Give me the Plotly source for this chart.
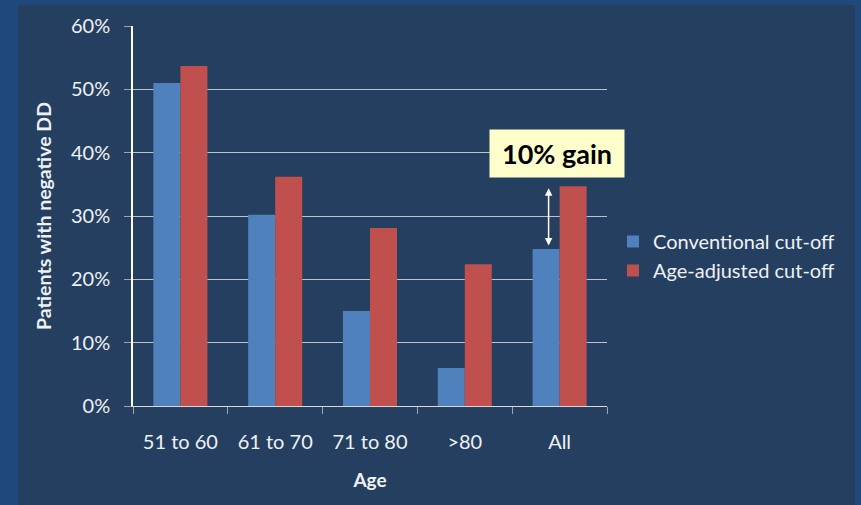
import plotly.graph_objects as go

# Share of patients with a negative D-dimer by age group
age_groups = ["51 to 60", "61 to 70", "71 to 80", ">80", "All"]
conventional = [0.510, 0.302, 0.150, 0.060, 0.248]
age_adjusted = [0.537, 0.362, 0.281, 0.224, 0.347]
y_ticks = [0, 0.1, 0.2, 0.3, 0.4, 0.5, 0.6]

FONT = "Lato"
TEXT = "#EEF1F5"
BLUE = "#4F81BD"
RED = "#C0504D"

fig = go.Figure()
fig.add_trace(go.Bar(name="Conventional cut-off", x=age_groups, y=conventional,
                     marker=dict(color=BLUE, line=dict(width=0))))
fig.add_trace(go.Bar(name="Age-adjusted cut-off", x=age_groups, y=age_adjusted,
                     marker=dict(color=RED, line=dict(width=0))))

L, R, T, B = 133, 254, 26, 99
W, H = 861, 505
pw, ph = W - L - R, H - T - B

def px_x(p):
    return (p - L) / pw

def px_y(p):
    return (H - B - p) / ph

# Slide panel behind the chart
fig.add_shape(type="rect", xref="paper", yref="paper",
              x0=px_x(18), x1=px_x(855), y0=px_y(505), y1=px_y(5),
              fillcolor="#253F60", line=dict(width=0), layer="below")

# Double-headed arrow between the two "All" bars
fig.add_annotation(x="All", y=age_adjusted[-1], ax="All", ay=conventional[-1],
                   xref="x", yref="y", axref="x", ayref="y", xshift=-11,
                   text="", showarrow=True, arrowhead=2, startarrowhead=2,
                   arrowside="end+start", arrowsize=1, startarrowsize=1,
                   arrowwidth=1.5, arrowcolor="white", standoff=2, startstandoff=2)

fig.add_annotation(xref="paper", yref="paper", x=px_x(557), y=px_y(153.5),
                   xanchor="center", yanchor="middle",
                   text="<b>10% gain</b>", showarrow=False,
                   font=dict(family=FONT, size=27, color="black"),
                   bgcolor="#FFFFCC", width=126, height=39, borderpad=4)

fig.update_layout(
    width=W, height=H,
    margin=dict(l=L, r=R, t=T, b=B),
    paper_bgcolor="#1F497D",
    plot_bgcolor="rgba(0,0,0,0)",
    barmode="group", bargap=0.43, bargroupgap=0,
    font=dict(family=FONT, size=20, color=TEXT),
    showlegend=True,
    legend=dict(x=px_x(613), y=px_y(222), xanchor="left", yanchor="top",
                bgcolor="rgba(0,0,0,0)", font=dict(size=20, color=TEXT),
                tracegroupgap=2, itemwidth=30),
    xaxis=dict(showgrid=False, showline=True, linecolor="#D9D9D9", linewidth=1,
               ticks="outside", tickson="boundaries", ticklen=7, tickcolor="#A6A6A6",
               tickfont=dict(size=20, color=TEXT), ticklabelstandoff=18,
               title=dict(text="<b>Age</b>", font=dict(size=19, color=TEXT), standoff=21)),
    yaxis=dict(range=[0, 0.6], tickvals=y_ticks, tickformat=".0%",
               showgrid=True, gridcolor="#BFC3C9", gridwidth=1,
               showline=True, linecolor="white", linewidth=1.5,
               ticks="outside", ticklen=7, tickcolor="#A6A6A6",
               tickfont=dict(size=20, color=TEXT), zeroline=False,
               ticklabelstandoff=10,
               title=dict(text="<b>Patients with negative DD</b>",
                          font=dict(size=19.5, color=TEXT), standoff=14)),
)

fig.write_html("out.html")
